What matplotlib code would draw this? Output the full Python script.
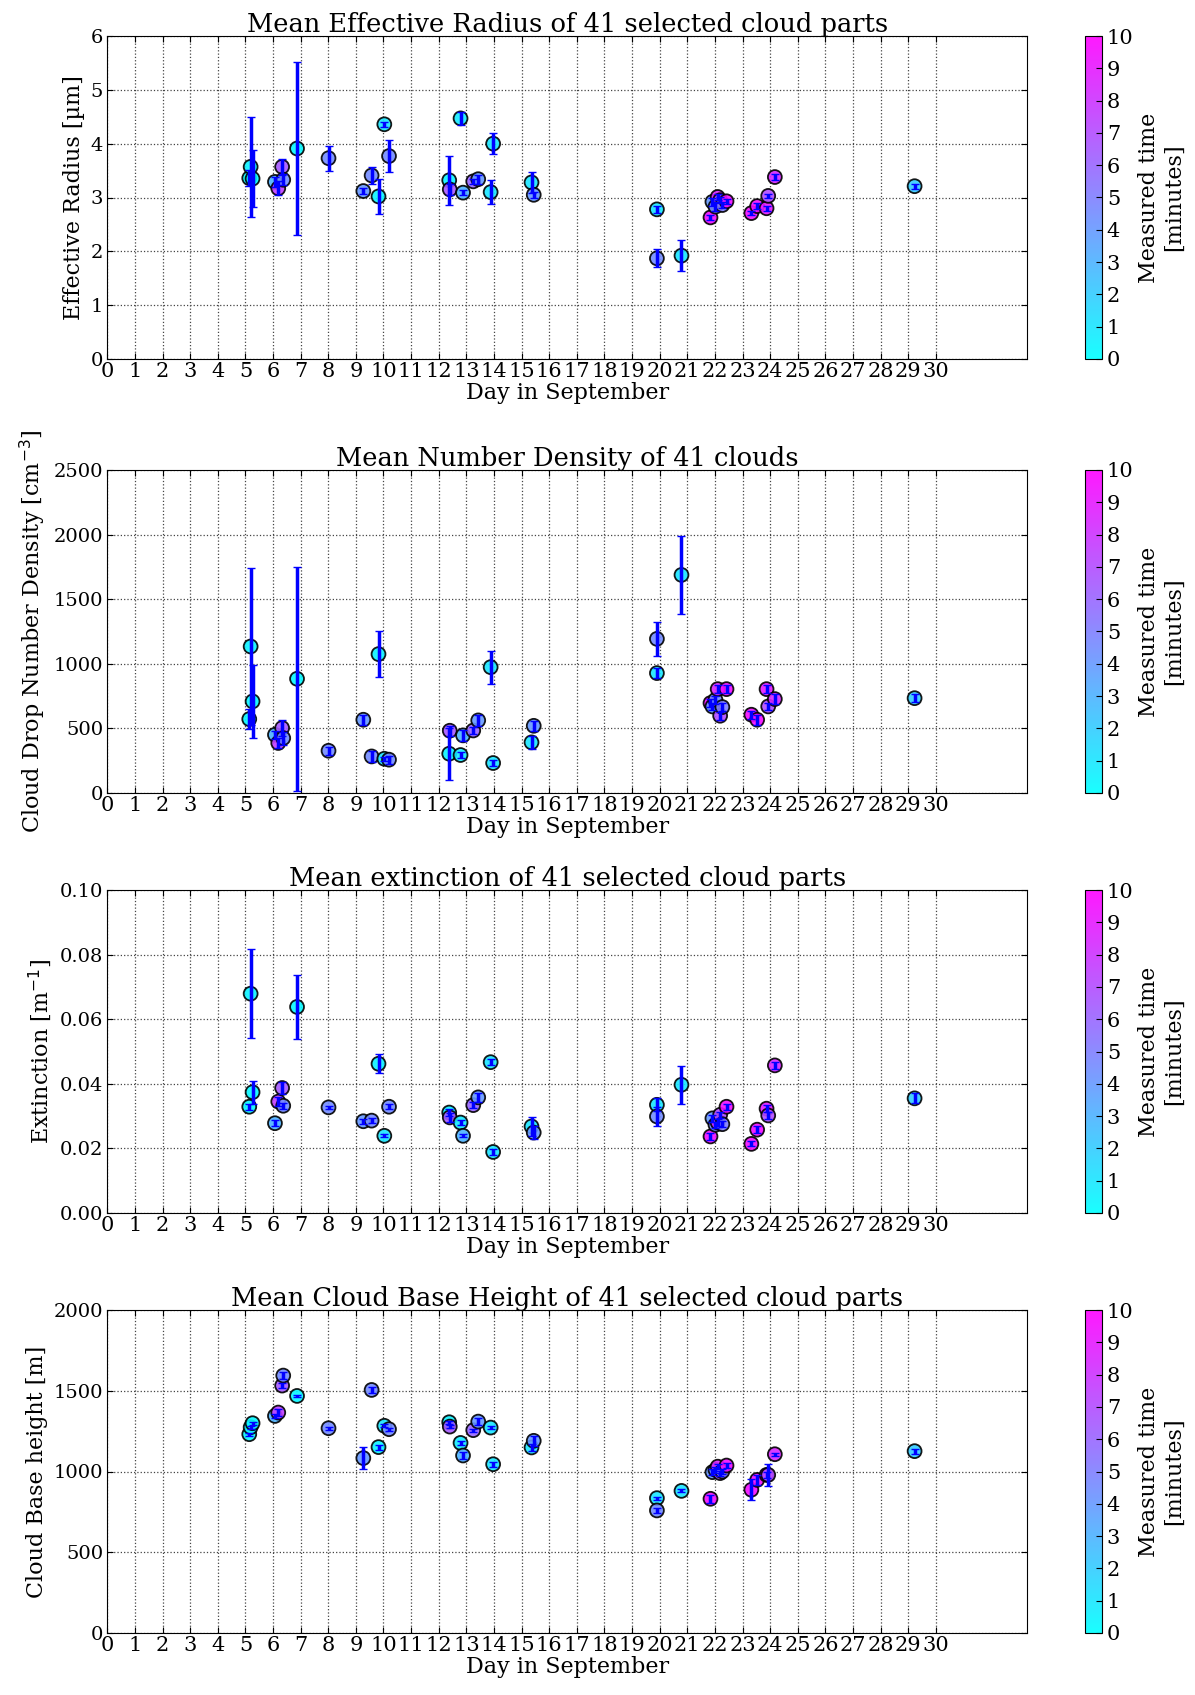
import matplotlib
matplotlib.use("Agg")
import matplotlib.pyplot as plt
import numpy as np

plt.rcParams['font.family'] = ['DejaVu Serif']

# ---- data ----
day = [5.14, 5.19, 5.26, 6.07, 6.19, 6.33, 6.37, 6.87, 8.01, 9.27,
       9.57, 9.82, 10.03, 10.20, 12.38, 12.40, 12.79, 12.88, 13.25, 13.43,
       13.97, 13.88, 15.36, 15.44, 19.90, 19.90, 20.79, 21.84, 21.91, 22.02,
       22.10, 22.19, 22.27, 22.42, 23.32, 23.53, 23.87, 23.93, 24.17, 29.23]

meas_time = [0.3, 0.5, 0.3, 3.0, 7.5, 6.5, 4.5, 0.3, 4.5, 4.0,
             4.5, 0.5, 1.0, 4.5, 0.5, 6.5, 0.8, 3.0, 6.0, 4.0,
             1.0, 1.0, 1.0, 4.0, 1.0, 4.5, 1.0, 9.5, 4.0, 4.5,
             8.5, 7.0, 5.0, 9.5, 9.5, 9.5, 9.0, 7.0, 8.5, 2.0]

reff = [3.36, 3.57, 3.35, 3.29, 3.17, 3.57, 3.33, 3.91, 3.73, 3.12,
        3.41, 3.02, 4.36, 3.77, 3.32, 3.15, 4.47, 3.09, 3.30, 3.34,
        4.00, 3.10, 3.28, 3.05, 2.78, 1.87, 1.92, 2.63, 2.92, 2.83,
        3.01, 2.95, 2.86, 2.93, 2.71, 2.84, 2.80, 3.03, 3.38, 3.21]
reff_err = [0.15, 0.93, 0.53, 0.10, 0.13, 0.15, 0.10, 1.60, 0.23, 0.05,
            0.16, 0.33, 0.05, 0.30, 0.46, 0.10, 0.12, 0.05, 0.05, 0.08,
            0.20, 0.22, 0.20, 0.05, 0.07, 0.17, 0.29, 0.05, 0.08, 0.08,
            0.05, 0.06, 0.05, 0.05, 0.03, 0.06, 0.05, 0.04, 0.06, 0.05]

ndens = [572, 1134, 709, 451, 387, 503, 425, 884, 327, 567,
         283, 1075, 265, 258, 304, 482, 294, 446, 484, 562,
         232, 974, 392, 520, 928, 1193, 1688, 696, 670, 722,
         804, 598, 665, 804, 606, 567, 804, 670, 727, 734]
ndens_err = [80, 610, 280, 30, 40, 60, 50, 865, 30, 40,
             40, 177, 15, 30, 200, 40, 20, 40, 30, 40,
             20, 127, 50, 40, 40, 133, 305, 30, 30, 30,
             30, 30, 30, 30, 30, 40, 30, 30, 40, 30]

ext = [0.0329, 0.0679, 0.0374, 0.0278, 0.0345, 0.0387, 0.0332, 0.0638, 0.0327, 0.0284,
       0.0286, 0.0462, 0.0239, 0.0329, 0.0311, 0.0296, 0.0280, 0.0239, 0.0334, 0.0358,
       0.0189, 0.0467, 0.0268, 0.0249, 0.0335, 0.0299, 0.0397, 0.0237, 0.0293, 0.0273,
       0.0280, 0.0304, 0.0275, 0.0329, 0.0214, 0.0258, 0.0323, 0.0302, 0.0457, 0.0355]
ext_err = [0.0010, 0.0137, 0.0036, 0.0010, 0.0015, 0.0020, 0.0010, 0.0099, 0.0005, 0.0008,
           0.0008, 0.0030, 0.0005, 0.0008, 0.0010, 0.0015, 0.0008, 0.0005, 0.0010, 0.0015,
           0.0008, 0.0010, 0.0030, 0.0020, 0.0020, 0.0030, 0.0058, 0.0010, 0.0010, 0.0010,
           0.0010, 0.0010, 0.0010, 0.0010, 0.0008, 0.0010, 0.0010, 0.0010, 0.0010, 0.0015]

cbh = [1231, 1274, 1299, 1344, 1365, 1532, 1594, 1468, 1268, 1083,
       1505, 1151, 1283, 1262, 1305, 1278, 1177, 1099, 1256, 1309,
       1045, 1272, 1149, 1190, 835, 759, 880, 831, 996, 1010,
       1030, 990, 1000, 1037, 887, 948, 979, 979, 1107, 1126]
cbh_err = [10, 10, 10, 10, 20, 15, 20, 5, 10, 67,
           20, 15, 10, 10, 10, 10, 10, 20, 10, 20,
           15, 10, 20, 30, 10, 15, 10, 25, 20, 20,
           15, 15, 15, 15, 65, 30, 20, 70, 10, 15]

xticks = list(range(0, 31))

panels = [
    ("Mean Effective Radius of 41 selected cloud parts", "Effective Radius [µm]",
     reff, reff_err, (0, 6), [0, 1, 2, 3, 4, 5, 6], None),
    ("Mean Number Density of 41 clouds", "Cloud Drop Number Density [cm$^{-3}$]",
     ndens, ndens_err, (0, 2500), [0, 500, 1000, 1500, 2000, 2500], None),
    ("Mean extinction of 41 selected cloud parts", "Extinction [m$^{-1}$]",
     ext, ext_err, (0, 0.10), [0.0, 0.02, 0.04, 0.06, 0.08, 0.10], "%.2f"),
    ("Mean Cloud Base Height of 41 selected cloud parts", "Cloud Base height [m]",
     cbh, cbh_err, (0, 2000), [0, 500, 1000, 1500, 2000], None),
]

W, H = 1195, 1695
fig = plt.figure(figsize=(W / 100, H / 100), dpi=100)

ax_left = 107.3 / W
ax_w = (1027 - 107.3) / W
cb_left = 1085 / W
cb_w = 17 / W
tops = [36, 470, 890, 1310]
ax_hpx = 323

for (title, ylabel, yv, ye, ylim, yt, fmt), top in zip(panels, tops):
    bottom = 1 - (top + ax_hpx) / H
    h = ax_hpx / H
    ax = fig.add_axes([ax_left, bottom, ax_w, h])
    cax = fig.add_axes([cb_left, bottom, cb_w, h])
    sc = ax.scatter(day, yv, c=meas_time, cmap='cool', vmin=0, vmax=10,
                    s=100, edgecolors='black', linewidths=1.3, alpha=0.9, zorder=2)
    ax.errorbar(day, yv, yerr=ye, fmt='none', ecolor='blue', elinewidth=2.5,
                capsize=3, capthick=1, zorder=3)
    ax.set_xlim(0, 33.3)
    ax.set_ylim(*ylim)
    ax.set_xticks(xticks)
    ax.set_yticks(yt)
    if fmt:
        ax.set_yticklabels([fmt % v for v in yt])
    ax.grid(True, linestyle=':', color='#444444', linewidth=0.9)
    ax.set_axisbelow(True)
    ax.tick_params(direction='in', top=True, right=True, labelsize=14, length=4, pad=3)
    ax.tick_params(axis='x', labelsize=15, pad=2)
    ax.set_title(title, fontsize=18.5, pad=3)
    ax.set_xlabel("Day in September", fontsize=16, labelpad=1)
    ax.set_ylabel(ylabel, fontsize=16, labelpad=4)
    cb = fig.colorbar(sc, cax=cax, ticks=range(0, 11))
    cb.solids.set_alpha(0.9)
    cax.tick_params(labelsize=15, direction='in', length=4)
    cb.set_label("Measured time\n[minutes]", fontsize=16, labelpad=3)

fig.savefig("out.png", dpi=100)
